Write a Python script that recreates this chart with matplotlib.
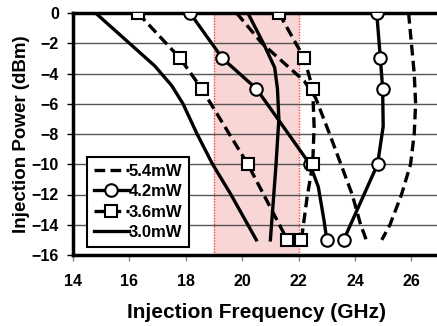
import numpy as np
import matplotlib.pyplot as plt

plt.rcParams['font.family'] = ['Liberation Sans', 'DejaVu Sans']
plt.rcParams['font.weight'] = 'bold'

# 5.4mW (dashed, no marker) - low and high frequency edges
f54_lo = [19.8, 20.7, 21.6, 22.2, 22.6, 23.1, 23.5, 23.9, 24.2, 24.4]
p54_lo = [0, -2, -3.5, -4.5, -5.6, -8, -10, -12, -14, -15]
f54_hi = [25.9, 26.0, 26.1, 26.15, 26.1, 25.97, 25.65, 25.24, 24.95]
p54_hi = [0, -2, -4, -6, -8, -10, -12, -14, -15]

# 4.2mW (solid, circles)
f42_lo = [18.15, 19.3, 20.5, 21.3, 22.4, 22.7, 22.9, 23.0]
p42_lo = [0, -3, -5, -7.1, -10, -11.5, -13.7, -15]
m42_lo = [0, 1, 2, 4, 7]
f42_hi = [24.77, 24.9, 24.98, 25.0, 24.8, 23.6]
p42_hi = [0, -3, -5, -7.5, -10, -15]
m42_hi = [0, 1, 2, 4, 5]

# 3.6mW (dashed, squares)
f36_lo = [16.3, 17.8, 18.56, 20.2, 21.6]
p36_lo = [0, -3, -5, -10, -15]
m36_lo = [0, 1, 2, 3, 4]
f36_hi = [21.3, 22.2, 22.5, 22.55, 22.5, 22.3, 22.1]
p36_hi = [0, -3, -5, -7.5, -10, -12.2, -15]
m36_hi = [0, 1, 2, 4, 6]

# 3.0mW (solid, no marker)
f30_lo = [14.8, 16.0, 16.9, 17.5, 17.9, 18.4, 18.95, 19.6, 20.2, 20.5]
p30_lo = [0, -2, -3.5, -4.8, -6, -8, -10, -12, -14, -15]
f30_hi = [20.2, 20.75, 21.15, 21.25, 21.3, 21.2, 21.0]
p30_hi = [0, -2, -3.6, -5, -7, -10, -15]

band = [19, 22]

fig = plt.figure(figsize=(4.37, 3.26), dpi=100)
ax = fig.add_axes([73 / 437, 1 - 255 / 326, 13 * 28.2 / 437, 242 / 326])

ax.axvspan(band[0], band[1], facecolor='#f9d6d6', edgecolor='none', zorder=0)
for b in band:
    ax.axvline(b, color='#ff4040', lw=1, ls=(0, (1, 1)), zorder=1)

for y in range(-14, 0, 2):
    ax.axhline(y, color='#555555', lw=1, zorder=1)

lw = 2.4
dash = (0, (3.2, 1.6))
ms_c = 9
ms_s = 8

ax.plot(f54_lo, p54_lo, color='black', lw=lw, ls=dash, label='5.4mW', zorder=3)
ax.plot(f54_hi, p54_hi, color='black', lw=lw, ls=dash, zorder=3)

ax.plot(f42_lo, p42_lo, color='black', lw=lw, marker='o', ms=ms_c, mfc='white',
        mec='black', mew=1.5, markevery=m42_lo, label='4.2mW', zorder=4)
ax.plot(f42_hi, p42_hi, color='black', lw=lw, marker='o', ms=ms_c, mfc='white',
        mec='black', mew=1.5, markevery=m42_hi, zorder=4)

ax.plot(f36_lo, p36_lo, color='black', lw=lw, ls=dash, marker='s', ms=ms_s, mfc='white',
        mec='black', mew=1.5, markevery=m36_lo, label='3.6mW', zorder=4)
ax.plot(f36_hi, p36_hi, color='black', lw=lw, ls=dash, marker='s', ms=ms_s, mfc='white',
        mec='black', mew=1.5, markevery=m36_hi, zorder=4)

ax.plot(f30_lo, p30_lo, color='black', lw=lw, label='3.0mW', zorder=3)
ax.plot(f30_hi, p30_hi, color='black', lw=lw, zorder=3)

ax.set_xlim(14, 27)
ax.set_ylim(-16, 0)
ax.set_xticks(np.arange(14, 27, 2))
ax.set_yticks(np.arange(-16, 1, 2))

for s in ['left', 'bottom', 'top']:
    ax.spines[s].set_linewidth(2.5)
    ax.spines[s].set_color('black')
ax.spines['right'].set_visible(False)

ax.tick_params(axis='y', direction='out', length=4, width=1, pad=6, labelsize=11.5)
ax.tick_params(axis='x', direction='out', length=4, width=1, pad=10, labelsize=11.5,
               color='#888888')

ax.set_xlabel('Injection Frequency (GHz)', fontsize=15, fontweight='bold', labelpad=10)
ax.set_ylabel('Injection Power (dBm)', fontsize=13.5, fontweight='bold', labelpad=1)

leg = ax.legend(loc='lower left', bbox_to_anchor=(87 / 437, 1 - 247 / 326),
                bbox_transform=fig.transFigure, borderaxespad=0, fancybox=False,
                framealpha=1, edgecolor='black', fontsize=12, handlelength=2.1,
                handletextpad=0.0, labelspacing=0.33, borderpad=0.4)
leg.get_frame().set_linewidth(1.5)
leg.set_zorder(6)

fig.savefig('out.png', dpi=100)
